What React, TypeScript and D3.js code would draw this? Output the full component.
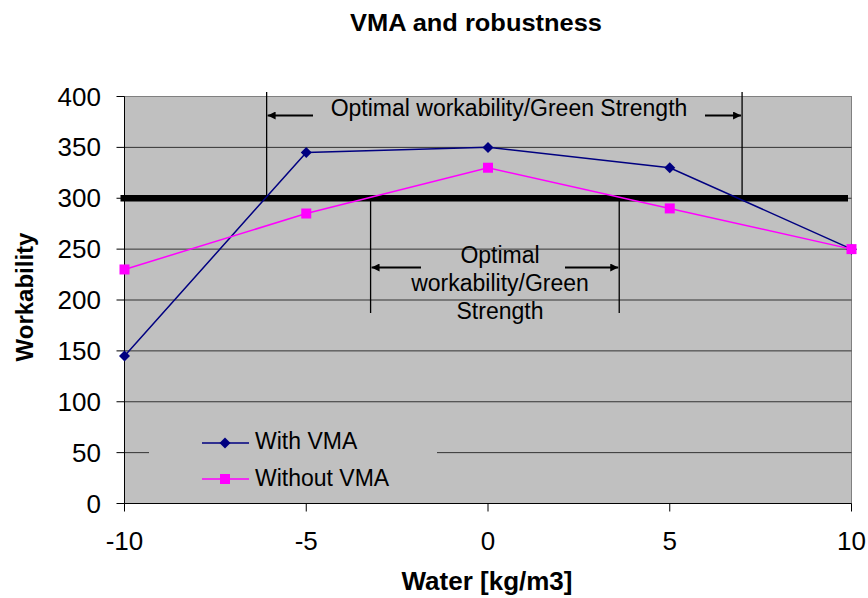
import React from 'react';
import * as d3 from 'd3';

const water = [-10, -5, 0, 5, 10];
const withVMA = [145, 345, 350, 330, 250];
const withoutVMA = [230, 285, 330, 290, 250];
const xTicks = [-10, -5, 0, 5, 10];
const yTicks = [0, 50, 100, 150, 200, 250, 300, 350, 400];
const threshold = 300;
const outerZone = [-6.09, 6.99];
const innerZone = [-3.23, 3.61];

const W = 868;
const H = 598;
const left = 124.5;
const right = 851.5;
const top = 96.5;
const bottom = 503.5;

const App = () => {
  const x = d3.scaleLinear().domain([-10, 10]).range([left, right]);
  const y = d3.scaleLinear().domain([0, 400]).range([bottom, top]);

  const line = d3.line<number>()
    .x((d, i) => x(water[i]))
    .y(d => y(d));

  const diamond = 'M0,-5.5L5.5,0L0,5.5L-5.5,0Z';
  const font = 'Liberation Sans, Arial, sans-serif';

  // legend box hides part of the 50 gridline
  const legX = 149, legY = 420, legW = 288, legH = 76;

  return (
    <svg width={W} height={H} style={{ position: 'absolute', left: 0, top: 0, background: 'white' }}>
      <text x={476} y={31} textAnchor="middle" fontFamily={font} fontWeight="bold" fontSize={24}
        textLength={252} lengthAdjust="spacingAndGlyphs">VMA and robustness</text>

      <rect x={left} y={top} width={right - left} height={bottom - top} fill="#c0c0c0" stroke="#808080" />

      {yTicks.map(t => (
        <g key={t}>
          {t > 0 && t < 400 && (
            <line x1={left} x2={right} y1={y(t)} y2={y(t)} stroke="#333" strokeWidth={1} />
          )}
          <line x1={left - 8} x2={left} y1={y(t)} y2={y(t)} stroke="#000" />
          <text x={101} y={y(t) + 9} textAnchor="end" fontFamily={font} fontSize={26}>{t}</text>
        </g>
      ))}

      <rect x={legX} y={legY} width={legW} height={legH} fill="#c0c0c0" />

      <line x1={left} x2={left} y1={top} y2={bottom} stroke="#000" />
      <line x1={left} x2={right} y1={bottom} y2={bottom} stroke="#000" />
      {xTicks.map(t => (
        <g key={t}>
          <line x1={x(t)} x2={x(t)} y1={bottom} y2={bottom + 8} stroke="#000" />
          <text x={x(t)} y={550} textAnchor="middle" fontFamily={font} fontSize={26}>{t}</text>
        </g>
      ))}

      <text x={487} y={590} textAnchor="middle" fontFamily={font} fontWeight="bold" fontSize={26}>Water [kg/m3]</text>
      <text transform={`translate(33, 297) rotate(-90)`} textAnchor="middle" fontFamily={font}
        fontWeight="bold" fontSize={24}>Workability</text>

      {/* zone markers */}
      <defs>
        <marker id="arr" viewBox="0 0 10 10" refX={10} refY={5} markerWidth={10} markerHeight={8}
          markerUnits="userSpaceOnUse" orient="auto">
          <path d="M0,0 L10,5 L0,10 z" fill="#000" />
        </marker>
      </defs>
      {outerZone.map(v => (
        <line key={v} x1={x(v)} x2={x(v)} y1={92} y2={y(threshold)} stroke="#000" strokeWidth={1.3} />
      ))}
      <line x1={313} x2={x(outerZone[0]) + 1} y1={115.5} y2={115.5} stroke="#000" strokeWidth={2} markerEnd="url(#arr)" />
      <line x1={705} x2={x(outerZone[1]) - 1} y1={115.5} y2={115.5} stroke="#000" strokeWidth={2} markerEnd="url(#arr)" />
      <text x={509} y={116} textAnchor="middle" fontFamily={font} fontSize={23}>Optimal workability/Green Strength</text>

      {innerZone.map(v => (
        <line key={v} x1={x(v)} x2={x(v)} y1={y(threshold)} y2={313} stroke="#000" strokeWidth={1.3} />
      ))}
      <line x1={421} x2={x(innerZone[0]) + 1} y1={267.5} y2={267.5} stroke="#000" strokeWidth={2} markerEnd="url(#arr)" />
      <line x1={565} x2={x(innerZone[1]) - 1} y1={267.5} y2={267.5} stroke="#000" strokeWidth={2} markerEnd="url(#arr)" />
      <text x={500} y={263} textAnchor="middle" fontFamily={font} fontSize={23}>Optimal</text>
      <text x={500} y={291} textAnchor="middle" fontFamily={font} fontSize={23}>workability/Green</text>
      <text x={500} y={319} textAnchor="middle" fontFamily={font} fontSize={23}>Strength</text>

      <line x1={120.5} x2={848} y1={y(threshold)} y2={y(threshold)} stroke="#000" strokeWidth={6.5} />

      <path d={line(withVMA) || ''} fill="none" stroke="#000080" strokeWidth={1.5} />
      {withVMA.map((v, i) => (
        <path key={i} d={diamond} transform={`translate(${x(water[i])},${y(v)})`} fill="#000080" />
      ))}
      <path d={line(withoutVMA) || ''} fill="none" stroke="#ff00ff" strokeWidth={1.5} />
      {withoutVMA.map((v, i) => (
        <rect key={i} x={x(water[i]) - 5} y={y(v) - 5} width={10} height={10} fill="#ff00ff" />
      ))}

      {/* legend */}
      <line x1={202} x2={249} y1={443} y2={443} stroke="#000080" strokeWidth={1.5} />
      <path d={diamond} transform="translate(225,443)" fill="#000080" />
      <text x={255} y={449} fontFamily={font} fontSize={23}>With VMA</text>
      <line x1={202} x2={249} y1={479} y2={479} stroke="#ff00ff" strokeWidth={1.5} />
      <rect x={220} y={474} width={10} height={10} fill="#ff00ff" />
      <text x={255} y={486} fontFamily={font} fontSize={23}>Without VMA</text>
    </svg>
  );
};

export default App;
